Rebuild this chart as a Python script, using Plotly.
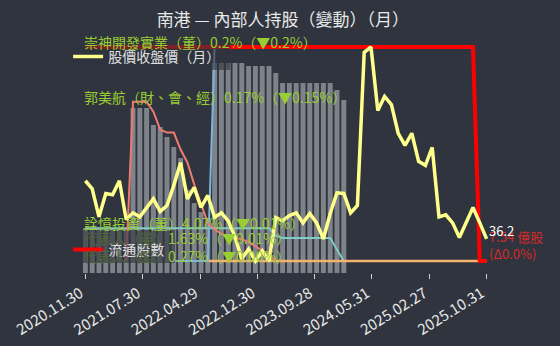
import plotly.graph_objects as go

dates = [
    "2020.11.30", "2020.12.31", "2021.01.29", "2021.02.26", "2021.03.31", "2021.04.30",
    "2021.05.31", "2021.06.30", "2021.07.30", "2021.08.31", "2021.09.30", "2021.10.29",
    "2021.11.30", "2021.12.30", "2022.01.26", "2022.02.25", "2022.03.31", "2022.04.29",
    "2022.05.31", "2022.06.30", "2022.07.29", "2022.08.31", "2022.09.30", "2022.10.31",
    "2022.11.30", "2022.12.30", "2023.01.17", "2023.02.24", "2023.03.31", "2023.04.28",
    "2023.05.31", "2023.06.30", "2023.07.31", "2023.08.31", "2023.09.28", "2023.10.31",
    "2023.11.30", "2023.12.29", "2024.01.31", "2024.02.29", "2024.03.29", "2024.04.30",
    "2024.05.31", "2024.06.28", "2024.07.31", "2024.08.30", "2024.09.30", "2024.10.30",
    "2024.11.29", "2024.12.31", "2025.01.22", "2025.02.27", "2025.03.31", "2025.04.30",
    "2025.05.29", "2025.06.30", "2025.07.31", "2025.08.29", "2025.09.30", "2025.10.31",
]

close_price = [
    44.9, 43.7, 39.5, 43.0, 42.8, 44.9, 39.1, 40.1, 39.5, 40.9,
    42.2, 40.3, 41.2, 44.2, 47.6, 42.2, 43.9, 40.9, 42.7, 39.4,
    40.1, 38.9, 36.5, 33.2, 34.7, 32.9, 34.4, 32.9, 39.4, 38.9,
    39.7, 40.1, 38.6, 40.0, 38.6, 36.2, 40.0, 43.1, 43.0, 40.1,
    41.2, 64.1, 64.9, 55.4, 57.5, 56.3, 52.0, 50.2, 52.0, 47.8,
    47.2, 49.9, 39.5, 39.8, 38.6, 36.4, 38.6, 40.9, 38.6, 36.2,
]

float_shares = [
    7.5412, 7.5412, 7.5412, 7.5412, 7.5412, 7.5412, 7.5412, 7.5412, 7.5412, 7.5412,
    7.5412, 7.5412, 7.5412, 7.5412, 7.5412, 7.5412, 7.5412, 7.5412, 7.5412, 7.5412,
    7.5412, 7.5412, 7.5412, 7.5412, 7.5412, 7.5412, 7.5412, 7.5412, 7.5412, 7.5412,
    7.5412, 7.5412, 7.5412, 7.5412, 7.5412, 7.5412, 7.5412, 7.5412, 7.5412, 7.5412,
    7.5412, 7.5412, 7.5412, 7.5412, 7.5412, 7.5412, 7.5412, 7.5412, 7.5412, 7.5412,
    7.5412, 7.5412, 7.5412, 7.5412, 7.5412, 7.5412, 7.5412, 7.5412, 7.5405, 7.5405,
]

insider_total = [
    1.50, 1.50, 1.50, 1.50, 1.50, 1.50, 1.50, 5.50, 5.50, 5.50,
    4.93, 4.87, 4.53, 4.20, 3.83, 2.77, 2.33, 2.03, 1.77, 7.00,
    7.00, 7.00, 7.00, 7.00, 6.90, 6.90, 6.90, 6.90, 6.67, 6.33,
    6.33, 6.33, 6.33, 6.33, 6.33, 6.33, 6.33, 6.10, 5.77,
]

N = None
holder_teal = [
    5.84, 5.84, 5.84, 5.84, 5.84, 5.84, 5.84, 5.84, 5.84, 5.84,
    5.84, 5.84, 5.84, 5.84, 5.84, 5.84, 5.84, 5.84, 5.84, 5.84,
    5.84, 5.84, 5.84, 5.84, 5.84, 5.84, 5.84, 5.84, 4.50, 4.07,
    4.07, 4.07, 4.07, 4.07, 4.07, 4.07, 4.07, 2.00, 0.00, N,
    N, N, N, N, N, N, N, N, N, N,
    N, N, N, N, N, N, N, N, N, N,
]
holder_salmon = [
    N, N, N, N, N, N, 0.00, 0.32, 0.32, 0.32,
    0.30, 0.264, 0.258, 0.258, 0.224, 0.198, 0.154, 0.114, 0.076, 0.064,
    0.054, 0.050, 0.046, 0.044, 0.038, 0.030, 0.020, 0.012, 0.00, N,
    N, N, N, N, N, N, N, N, N, N,
    N, N, N, N, N, N, N, N, N, N,
    N, N, N, N, N, N, N, N, N, N,
]
holder_blue = [
    N, N, N, N, N, N, N, N, N, N,
    N, N, N, 0.0, 0.0, 0.0, 0.0, 0.0, 0.0, 0.2,
    0.2, 0.2, 0.2, 0.2, 0.2, 0.2, 0.2, 0.2, 0.2, 0.2,
    0.2, 0.2, 0.2, 0.2, 0.2, 0.2, 0.2, 0.2, 0.2, 0.2,
    0.2, 0.2, 0.2, 0.2, 0.2, 0.2, 0.2, 0.2, 0.2, 0.2,
    0.2, 0.2, 0.2, 0.2, 0.2, 0.2, 0.2, 0.2, N, N,
]
holder_orange = [
    N, N, N, N, N, N, N, N, N, N,
    N, N, N, N, N, N, N, N, 0.27, 0.27,
    0.27, 0.27, 0.27, 0.27, 0.27, 0.27, 0.27, 0.27, 0.27, 0.27,
    0.27, 0.27, 0.27, 0.27, 0.27, 0.27, 0.27, 0.27, 0.27, 0.27,
    0.27, 0.27, 0.27, 0.27, 0.27, 0.27, 0.27, 0.27, 0.27, 0.27,
    0.27, 0.27, 0.27, 0.27, 0.27, 0.27, 0.27, 0.27, 0.27, 0.27,
]

DIM = "#4f6438"
labels = {
    "blue": "崇神開發實業（董）0.2%（▼0.2%）",
    "salmon": "郭美航（財、會、經）0.17%（▼0.15%）",
    "teal": "詮憶投資（董）4.07%（▼0.01%）",
    "mid": f"<span style='color:{DIM}'>代表人（董）</span>1.63%（▼0.01%）",
    "orange": f"<span style='color:{DIM}'>代表人（監）</span>0.27%（▼0.00%）",
}

BG = "#2f343e"
FONT = "Noto Sans CJK TC, Noto Sans, sans-serif"
idx = list(range(len(dates)))

# plot area 233 px tall: lines span 12 px above bottom to 7 px below top
def rng(b, t):
    s = t - b
    return [b - s * 12 / 214, t + s * 7 / 214]

fig = go.Figure()
fig.add_trace(go.Bar(x=idx[:len(insider_total)], y=insider_total, marker_color="#7e838a",
                     marker_line_width=0, showlegend=False, yaxis="y", hoverinfo="skip"))
fig.add_trace(go.Scatter(x=idx, y=holder_teal, mode="lines", line=dict(color="#80cbc4", width=2),
                         showlegend=False, yaxis="y2"))
fig.add_trace(go.Scatter(x=idx, y=holder_orange, mode="lines", line=dict(color="#f4b26f", width=2.5),
                         showlegend=False, yaxis="y3"))
fig.add_trace(go.Scatter(x=idx, y=holder_blue, mode="lines", line=dict(color="#7ab4de", width=2),
                         showlegend=False, yaxis="y4"))
fig.add_trace(go.Scatter(x=idx, y=holder_salmon, mode="lines", line=dict(color="#ee7b70", width=2),
                         showlegend=False, yaxis="y5"))
fig.add_trace(go.Scatter(x=idx, y=float_shares, mode="lines", name="流通股數",
                         line=dict(color="#ff0000", width=4), yaxis="y6", legend="legend2"))
fig.add_trace(go.Scatter(x=idx, y=close_price, mode="lines", name="股價收盤價（月）",
                         line=dict(color="#ffff8c", width=3.5), yaxis="y7", legend="legend"))

hidden = dict(visible=False, overlaying="y", showgrid=False, zeroline=False)
nt = 7
tickvals = [k * (len(dates) - 1) / nt for k in range(nt + 1)]
ticktext = [dates[round(v)] for v in tickvals]

lg = dict(bgcolor="rgba(0,0,0,0)", font=dict(size=14, color="#e0e0e0", family=FONT),
          xanchor="left", yanchor="middle", x=-0.034, itemwidth=30)

ann_font = dict(size=14, color="#9acd32", family=FONT)
annotations = [
    dict(x=0, y=max(v for v in holder_blue if v is not None), yref="y4", text=labels["blue"]),
    dict(x=0, y=max(v for v in holder_salmon if v is not None), yref="y5", text=labels["salmon"]),
    dict(x=0, y=max(v for v in holder_teal if v is not None), yref="y2", text=labels["teal"]),
    dict(x=0, y=0.129, yref="paper", text=labels["mid"]),
    dict(x=0, y=holder_orange[-1], yref="y3", text=labels["orange"]),
]
for a in annotations:
    a.update(xref="x", xanchor="left", yanchor="middle", yshift=5, xshift=-3,
             showarrow=False, font=ann_font)
annotations.append(dict(x=idx[-1], y=float_shares[-1], xref="x", yref="y6",
                        text=f"{round(float_shares[-1], 2):.2f} 億股<br>(Δ0.0%)",
                        xanchor="left", yanchor="bottom", yshift=-4, showarrow=False,
                        align="left", font=dict(size=13, color="#d42a2a", family=FONT)))
annotations.append(dict(x=idx[-1], y=close_price[-1], xref="x", yref="y7",
                        text=f"{close_price[-1]}", xanchor="left", yanchor="bottom",
                        yshift=-3, showarrow=False,
                        font=dict(size=13, color="#ffffff", family=FONT)))

# translucent legend panels
panel = dict(type="rect", xref="paper", yref="paper", layer="above", line_width=0,
             fillcolor="rgba(47,52,62,0.62)")
shapes = [
    dict(x0=-0.042, x1=0.363, y0=0.871, y1=0.979, **panel),
    dict(x0=-0.042, x1=0.228, y0=0.043, y1=0.185, **panel),
]

fig.update_layout(
    width=560, height=346,
    margin=dict(l=82, r=70, t=40, b=73, autoexpand=False),
    paper_bgcolor=BG, plot_bgcolor=BG,
    font=dict(family=FONT, color="#e0e0e0"),
    title=dict(text="南港 — 內部人持股（變動）（月）", x=0.505, xanchor="center",
               y=1 - 20 / 346, yanchor="middle", yref="container",
               font=dict(size=17, color="#e8e8e8", family=FONT)),
    bargap=0.27,
    xaxis=dict(range=[-0.5, len(dates) - 0.5], tickvals=tickvals, ticktext=ticktext,
               tickangle=-32, ticks="outside", ticklen=5, tickcolor="#d0d0d0",
               showgrid=False, zeroline=False, showline=False, automargin=False,
               ticklabelshift=-5,
               tickfont=dict(size=15, color="#e8e8e8", family=FONT)),
    yaxis=dict(visible=False, range=[0, max(insider_total) * 233 / 210], showgrid=False),
    yaxis2=dict(range=rng(0, 38.05), **hidden),
    yaxis3=dict(range=rng(holder_orange[-1], 0.54), **hidden),
    yaxis4=dict(range=rng(0, 0.2), **hidden),
    yaxis5=dict(range=rng(0, 0.43), **hidden),
    yaxis6=dict(range=rng(min(float_shares), max(float_shares)), **hidden),
    yaxis7=dict(range=rng(min(close_price), max(close_price)), **hidden),
    legend=dict(y=0.927, **lg),
    legend2=dict(y=0.099, **lg),
    shapes=shapes,
    annotations=annotations,
)

fig.write_html("out.html")
